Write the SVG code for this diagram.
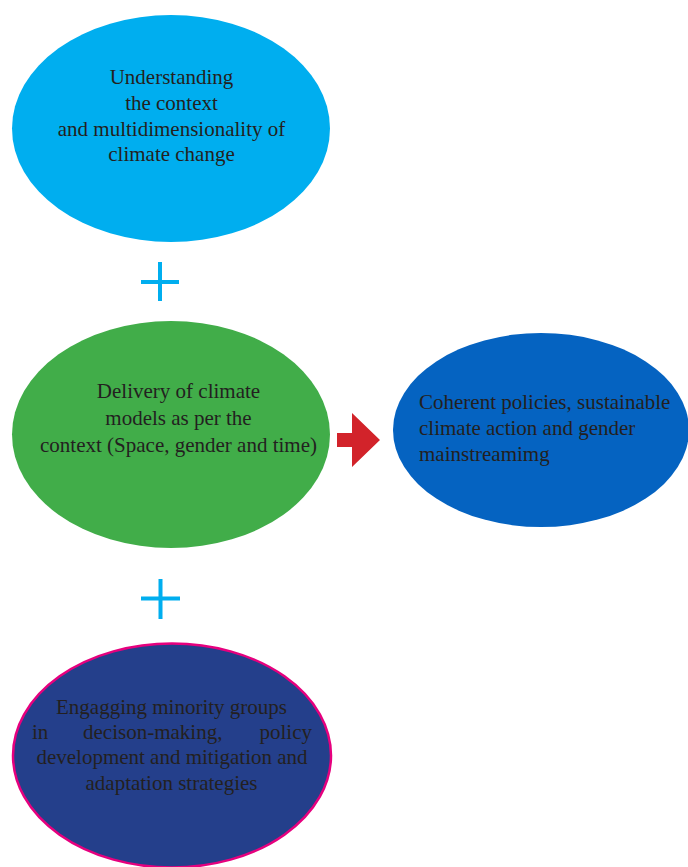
<svg xmlns="http://www.w3.org/2000/svg" width="688" height="867" viewBox="0 0 688 867">
<style>
text{font-family:"Liberation Serif","Times New Roman",serif;font-size:21px;fill:#231f20}
.c{text-anchor:middle}
.plus{stroke:#00aeef;stroke-width:4;fill:none}
</style>
<rect width="688" height="867" fill="#ffffff"/>
<g id="node-understanding">
<ellipse cx="171" cy="128.5" rx="159" ry="113.5" fill="#00aeef"/>
<text class="c" x="171.5" y="84">Understanding</text>
<text class="c" x="171.5" y="110">the context</text>
<text class="c" x="171.5" y="135.5">and multidimensionality of</text>
<text class="c" x="171.5" y="161">climate change</text>
</g>
<g id="node-delivery">
<ellipse cx="171" cy="434.5" rx="159" ry="113.5" fill="#41ad49"/>
<text class="c" x="178.5" y="398">Delivery of climate</text>
<text class="c" x="178.5" y="424.5">models as per the</text>
<text class="c" x="178.5" y="451.5">context (Space, gender and time)</text>
</g>
<g id="node-coherent">
<ellipse cx="541" cy="430" rx="148" ry="97" fill="#0563c1"/>
<text x="419" y="409">Coherent policies, sustainable</text>
<text x="419" y="435">climate action and gender</text>
<text x="419" y="460.5">mainstreamimg</text>
</g>
<g id="node-engaging">
<ellipse cx="172" cy="755.5" rx="159" ry="112" fill="#243f8b" stroke="#e6007e" stroke-width="2.5"/>
<text class="c" x="171.5" y="714">Engagging minority groups</text>
<text x="32" y="739">in</text>
<text x="83" y="739">decison-making,</text>
<text x="312" y="739" text-anchor="end">policy</text>
<text class="c" x="172" y="764">development and mitigation and</text>
<text class="c" x="171.5" y="790">adaptation strategies</text>
</g>
<g id="connectors">
<path class="plus" d="M141 282H179M160 262V301"/>
<path class="plus" d="M141 598.5H180M160.5 579V619"/>
<path d="M337 433H352V413L380 440L352 467V447H337Z" fill="#d2232a"/>
</g>
</svg>
